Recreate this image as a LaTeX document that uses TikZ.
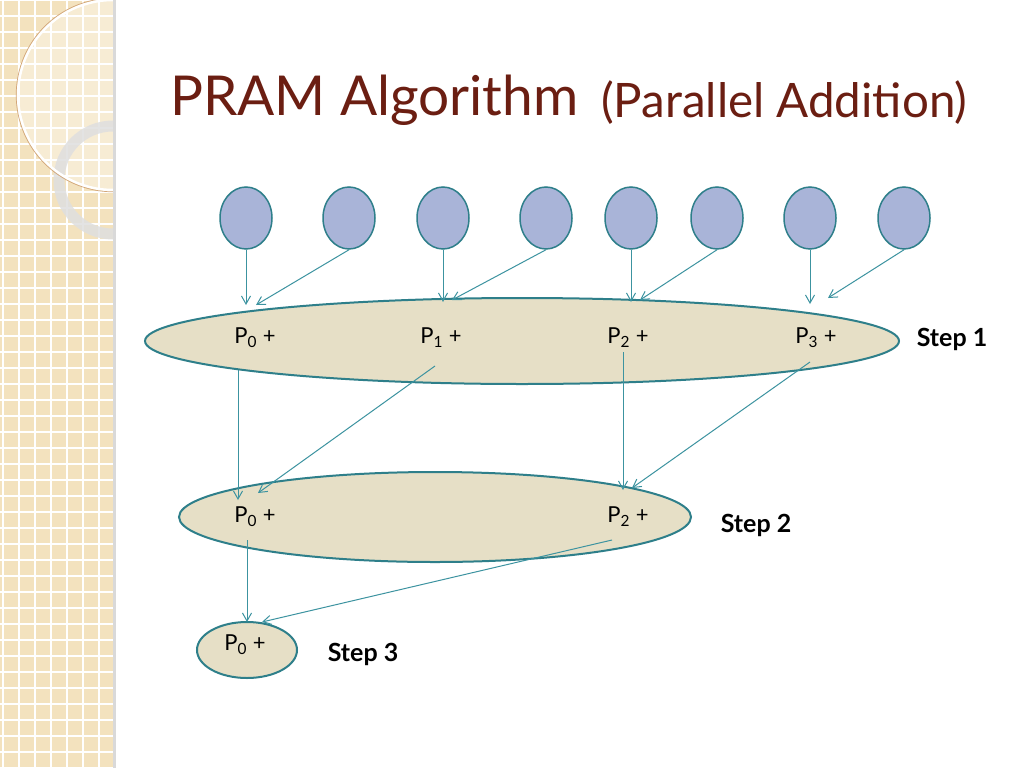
\documentclass[tikz,border=0pt]{standalone}
\usepackage{fontspec}
\setmainfont{Lato}
\usetikzlibrary{arrows.meta,shapes.geometric}
\definecolor{band}{HTML}{F3E2BE}
\definecolor{title}{HTML}{6B1E12}
\definecolor{circ}{HTML}{A9B4D8}
\definecolor{teal}{HTML}{2E7F8A}
\definecolor{arr}{HTML}{3C93A0}
\definecolor{ell}{HTML}{E6DFC6}
\tikzset{x=1pt,y=-1pt,
 inp/.style={ellipse,draw=teal,line width=1.5pt,fill=circ,minimum width=52pt,minimum height=62pt,inner sep=0},
 stage/.style={ellipse,draw=teal,line width=2pt,fill=ell,inner sep=0},
 lab/.style={font=\fontsize{22}{24}\selectfont,inner sep=0},
 steplab/.style={font=\bfseries\fontsize{25}{27}\selectfont,inner sep=0},
 con/.style={draw=arr,line width=1pt,-{Straight Barb[length=8pt,width=9pt]}}}
\begin{document}
\begin{tikzpicture}
\useasboundingbox (0,0) rectangle (1024,768);
\fill[white] (0,0) rectangle (1024,768);
\fill[band] (0,0) rectangle (113,768);
\foreach \i in {0,16,...,768} {\draw[white,line width=1.6pt] (0,\i) -- (113,\i);}
\foreach \i in {3,19,...,113} {\draw[white,line width=1.6pt] (\i,0) -- (\i,768);}
\begin{scope}
\clip (0,0) rectangle (113,768);
\fill[white,opacity=0.35] (113,95) circle (95);
\draw[line width=11pt,gray!25,opacity=0.85] (113,180) circle (54);
\draw[line width=2.5pt,white] (113,95) circle (95);
\draw[line width=0.7pt,brown!70] (113,95) circle (96.8);
\end{scope}
\fill[gray!30] (113,0) rectangle (116,768);
\node[anchor=west,text=title,font=\fontsize{55}{60}\selectfont,inner sep=0] (t) at (170,100) {PRAM Algorithm};
\node[anchor=west,text=title,font=\fontsize{47.5}{52}\selectfont,inner sep=0] (t2) at (601,103) {(Parallel Addition)};
\foreach \n/\x in {1/246,2/349,3/443,4/546,5/631,6/717,7/810,8/904} {\node[inp] (c\n) at (\x,218) {};}
\node[stage,minimum width=754pt,minimum height=86pt] (e1) at (522,341) {};
\node[stage,minimum width=512pt,minimum height=90pt] (e2) at (435,517) {};
\node[stage,minimum width=100pt,minimum height=56pt] (e3) at (247,650) {};
\node[lab] (a0) at (255,338) {P\textsubscript{0} +};
\node[lab] (a1) at (441,338) {P\textsubscript{1} +};
\node[lab] (a2) at (628,338) {P\textsubscript{2} +};
\node[lab] (a3) at (816,338) {P\textsubscript{3} +};
\node[steplab] (s1) at (952,339) {Step 1};
\node[lab] (b0) at (255,517) {P\textsubscript{0} +};
\node[lab] (b2) at (628,517) {P\textsubscript{2} +};
\node[steplab] (s2) at (756,525) {Step 2};
\node[lab] (d0) at (245,645) {P\textsubscript{0} +};
\node[steplab] (s3) at (363,654) {Step 3};
\coordinate (t1) at (246,305); \coordinate (t2a) at (256,305);
\coordinate (t3) at (443,302); \coordinate (t4) at (452,300);
\coordinate (t5) at (631,302); \coordinate (t6) at (640,300);
\coordinate (t7) at (810,304); \coordinate (t8) at (828,298);
\draw[con] (c1.south) -- (t1);
\draw[con] (c2.south) -- (t2a);
\draw[con] (c3.south) -- (t3);
\draw[con] (c4.south) -- (t4);
\draw[con] (c5.south) -- (t5);
\draw[con] (c6.south) -- (t6);
\draw[con] (c7.south) -- (t7);
\draw[con] (c8.south) -- (t8);
\coordinate (u1s) at (238,370); \coordinate (u1e) at (238,500);
\coordinate (u2s) at (435,366); \coordinate (u2e) at (258,493);
\coordinate (u3s) at (623,352); \coordinate (u3e) at (623,490);
\coordinate (u4s) at (810,362); \coordinate (u4e) at (632,488);
\draw[con] (u1s) -- (u1e);
\draw[con] (u2s) -- (u2e);
\draw[con] (u3s) -- (u3e);
\draw[con] (u4s) -- (u4e);
\coordinate (v1s) at (247,540); \coordinate (v1e) at (247,622);
\coordinate (v2s) at (612,540); \coordinate (v2e) at (262,622);
\draw[con] (v1s) -- (v1e);
\draw[con] (v2s) -- (v2e);
\end{tikzpicture}
\end{document}
